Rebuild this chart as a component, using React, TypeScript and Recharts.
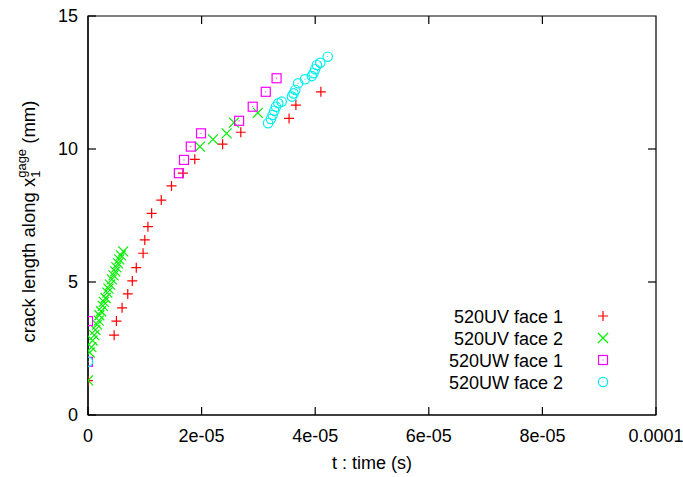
import { ScatterChart, Scatter, XAxis, YAxis, Legend, ReferenceArea, ReferenceLine } from "recharts"

// time values are in units of 1e-5 s, crack lengths in mm
const TIME_UNIT = 1e-5

const uvFace1Time = [0, 0.46, 0.5, 0.6, 0.7, 0.78, 0.85, 0.97, 1.0, 1.055, 1.12, 1.29, 1.47, 1.67, 1.88, 2.37, 2.69, 3.54, 3.66, 4.1]
const uvFace1Len = [1.29, 3.0, 3.53, 4.03, 4.55, 5.04, 5.54, 6.08, 6.58, 7.08, 7.58, 8.08, 8.61, 9.09, 9.61, 10.18, 10.63, 11.15, 11.65, 12.15]

const uvFace2Time = [0, 0.03, 0.06, 0.08, 0.11, 0.13, 0.16, 0.19, 0.2, 0.23, 0.26, 0.28, 0.31, 0.34, 0.36, 0.39, 0.42, 0.45, 0.48, 0.5, 0.53, 0.55, 0.58, 0.62, 1.97, 2.2, 2.44, 2.57, 2.99]
const uvFace2Len = [1.3, 2.35, 2.55, 2.8, 3.0, 3.2, 3.4, 3.55, 3.75, 3.9, 4.1, 4.25, 4.4, 4.6, 4.75, 4.9, 5.1, 5.25, 5.4, 5.55, 5.7, 5.85, 6.0, 6.15, 10.09, 10.36, 10.59, 10.99, 11.36]

const uwFace1Time = [0, 0, 1.6, 1.69, 1.81, 1.99, 2.66, 2.9, 3.13, 3.32]
const uwFace1Len = [3.53, 2.0, 9.09, 9.59, 10.09, 10.59, 11.06, 11.59, 12.15, 12.66]

const uwFace2Time = [0, 3.17, 3.22, 3.25, 3.28, 3.31, 3.35, 3.41, 3.59, 3.62, 3.65, 3.7, 3.82, 3.94, 3.97, 4.0, 4.03, 4.09, 4.22]
const uwFace2Len = [2.0, 10.97, 11.13, 11.28, 11.44, 11.59, 11.72, 11.78, 11.97, 12.09, 12.22, 12.47, 12.62, 12.74, 12.85, 13.0, 13.16, 13.24, 13.47]

const xTicks = [0, 2e-5, 4e-5, 6e-5, 8e-5, 1e-4]
const xTickLabels = ["0", "2e-05", "4e-05", "6e-05", "8e-05", "0.0001"]
const yTicks = [0, 5, 10, 15]

const FONT = "'Liberation Sans', Arial, Helvetica, sans-serif"

const toPoints = (time: number[], len: number[]) =>
  time.map((t, i) => ({ t: t * TIME_UNIT, len: len[i] }))

type MarkProps = { cx?: number; cy?: number; color: string }

function Plus({ cx = 0, cy = 0, color }: MarkProps) {
  return (
    <path d={`M${cx - 5},${cy}H${cx + 5}M${cx},${cy - 5}V${cy + 5}`} stroke={color} strokeWidth={1.2} fill="none" />
  )
}

function Cross({ cx = 0, cy = 0, color }: MarkProps) {
  return (
    <path
      d={`M${cx - 5},${cy - 5}L${cx + 5},${cy + 5}M${cx - 5},${cy + 5}L${cx + 5},${cy - 5}`}
      stroke={color}
      strokeWidth={1.2}
      fill="none"
    />
  )
}

function Box({ cx = 0, cy = 0, color }: MarkProps) {
  return (
    <g>
      <rect x={cx - 4.5} y={cy - 4.5} width={9} height={9} stroke={color} strokeWidth={1.2} fill="none" />
      <rect x={cx - 0.5} y={cy - 0.5} width={1} height={1} fill={color} />
    </g>
  )
}

function Ring({ cx = 0, cy = 0, color }: MarkProps) {
  return (
    <g>
      <circle cx={cx} cy={cy} r={4.7} stroke={color} strokeWidth={1.2} fill="none" />
      <rect x={cx - 0.5} y={cy - 0.5} width={1} height={1} fill={color} />
    </g>
  )
}

const series = [
  { name: "520UV face 1", color: "#ff0000", Mark: Plus, data: toPoints(uvFace1Time, uvFace1Len) },
  { name: "520UV face 2", color: "#00ee00", Mark: Cross, data: toPoints(uvFace2Time, uvFace2Len) },
  { name: "520UW face 1", color: "#ff00ff", Mark: Box, data: toPoints(uwFace1Time, uwFace1Len) },
  { name: "520UW face 2", color: "#00eeee", Mark: Ring, data: toPoints(uwFace2Time, uwFace2Len) },
]

function KeyBox() {
  return (
    <svg width={200} height={96} style={{ display: "block" }}>
      {series.map((s, i) => (
        <g key={s.name}>
          <text x={123} y={18.5 + i * 22} textAnchor="end" fontSize={18} fontFamily={FONT} fill="#000">
            {s.name}
          </text>
          <s.Mark cx={163} cy={12 + i * 22} color={s.color} />
        </g>
      ))}
    </svg>
  )
}

function YTitle(props: any) {
  const vb = props.viewBox || { x: 8, y: 16, width: 80, height: 399 }
  const x = vb.x + 27
  const y = vb.y + vb.height / 2 + 6
  return (
    <text
      x={x}
      y={y}
      transform={`rotate(-90 ${x} ${y})`}
      textAnchor="middle"
      fontSize={18.5}
      fontFamily={FONT}
      fill="#000"
    >
      <tspan>crack length along x</tspan>
      <tspan fontSize={13} dy={5}>1</tspan>
      <tspan fontSize={13} dx={-7.2} dy={-14}>gage</tspan>
      <tspan dy={9}>{" (mm)"}</tspan>
    </text>
  )
}

// mirrored inward ticks on the top and right borders (gnuplot style)
const TopTick = (p: any) => {
  const y = Math.min(p.y1, p.y2)
  return <line x1={p.x1} x2={p.x1} y1={y} y2={y + 8} stroke="#000" strokeWidth={1.2} />
}
const RightTick = (p: any) => {
  const x = Math.max(p.x1, p.x2)
  return <line x1={x} x2={x - 8} y1={p.y1} y2={p.y1} stroke="#000" strokeWidth={1.2} />
}

const tickStyle = { fontSize: 18, fill: "#000", fontFamily: FONT }
const axisLine = { stroke: "#000", strokeWidth: 1.2 }

export default function App() {
  return (
    <div style={{ position: "absolute", left: 0, top: 0, width: 683, height: 477, background: "#fff", fontFamily: FONT }}>
      <ScatterChart width={683} height={477} margin={{ top: 16, right: 27, bottom: 0, left: 8 }}>
        <XAxis
          xAxisId="b"
          type="number"
          dataKey="t"
          domain={[0, 1e-4]}
          allowDataOverflow
          ticks={xTicks}
          tickFormatter={(_v: number, i: number) => xTickLabels[i]}
          height={62}
          tickSize={-8}
          tickMargin={22}
          tick={tickStyle}
          axisLine={axisLine}
          tickLine={axisLine}
          label={{ value: "t : time (s)", position: "insideBottom", offset: 8, fontSize: 18, fill: "#000", fontFamily: FONT }}
        />
        <YAxis
          yAxisId="l"
          type="number"
          dataKey="len"
          domain={[0, 15]}
          allowDataOverflow
          ticks={yTicks}
          width={80}
          tickSize={-8}
          tickMargin={18}
          tick={tickStyle}
          axisLine={axisLine}
          tickLine={axisLine}
          label={<YTitle />}
        />
        <ReferenceArea
          xAxisId="b"
          yAxisId="l"
          x1={0}
          x2={1e-4}
          y1={0}
          y2={15}
          fill="none"
          fillOpacity={0}
          stroke="#000"
          strokeWidth={1.2}
          strokeOpacity={1}
        />
        {xTicks.slice(1, -1).map((v) => (
          <ReferenceLine key={`xt${v}`} xAxisId="b" yAxisId="l" x={v} shape={TopTick} />
        ))}
        {yTicks.slice(1, -1).map((v) => (
          <ReferenceLine key={`yr${v}`} xAxisId="b" yAxisId="l" y={v} shape={RightTick} />
        ))}
        {series.map((s) => (
          <Scatter
            key={s.name}
            name={s.name}
            data={s.data}
            xAxisId="b"
            yAxisId="l"
            isAnimationActive={false}
            shape={(p: any) => <s.Mark cx={p.cx} cy={p.cy} color={s.color} />}
          />
        ))}
        <Legend
          layout="vertical"
          align="center"
          verticalAlign="middle"
          content={() => <KeyBox />}
          wrapperStyle={{ left: 440, top: 304, width: 200, height: 96 }}
        />
      </ScatterChart>
    </div>
  )
}
